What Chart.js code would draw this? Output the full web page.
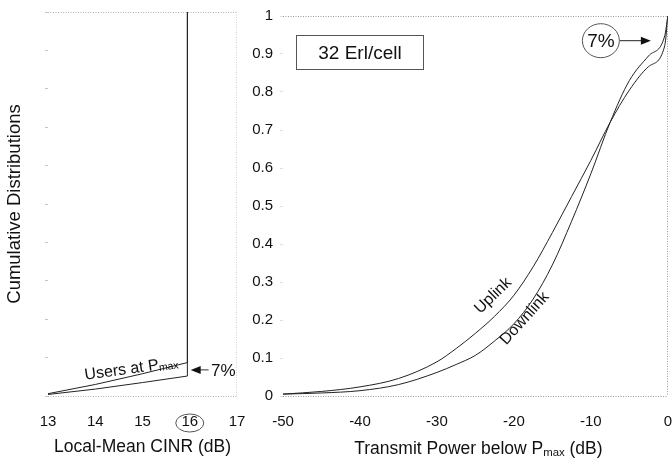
<!DOCTYPE html>
<html>
<head>
<meta charset="utf-8">
<script src="https://cdn.jsdelivr.net/npm/chart.js@4.4.1/dist/chart.umd.min.js"></script>
<style>
  html, body { margin: 0; padding: 0; background: #fff; }
  #wrap { position: relative; width: 672px; height: 460px; }
  #cvLeft { position: absolute; left: 0; top: 0; }
  #cvRight { position: absolute; left: 240px; top: 0; }
</style>
</head>
<body>
<div id="wrap">
  <canvas id="cvLeft" width="250" height="460"></canvas>
  <canvas id="cvRight" width="432" height="460"></canvas>
</div>
<script>
// left panel - local mean CINR of the users stuck at Pmax
var cinrDb   = [13, 14, 15, 15.95, 15.95];
var cinrUp   = [0.006, 0.03, 0.058, 0.087, 1];
var cinrDown = [0.004, 0.018, 0.035, 0.052, 1];
var cinrTicks = [13, 14, 15, 16, 17];

// right panel - transmit power below Pmax
var powerDb  = [-50, -45, -40, -35, -30, -27.5, -25, -22.5, -20, -17.5, -15, -12.5, -10, -7.5, -5, -2.5, -0.4, 0];
var uplink   = [0.005, 0.012, 0.024, 0.046, 0.09, 0.125, 0.165, 0.21, 0.265, 0.34, 0.43, 0.525, 0.62, 0.72, 0.805, 0.867, 0.922, 1];
var downlink = [0.005, 0.008, 0.014, 0.03, 0.062, 0.083, 0.107, 0.145, 0.19, 0.255, 0.345, 0.46, 0.585, 0.72, 0.83, 0.895, 0.948, 1];
var powerTicks = [-50, -40, -30, -20, -10, 0];

var cdfTicks = [0, 0.1, 0.2, 0.3, 0.4, 0.5, 0.6, 0.7, 0.8, 0.9, 1];

var fam = "'Liberation Sans', Arial, sans-serif";
Chart.defaults.font.family = fam;
Chart.defaults.color = '#111';

function pts(xs, ys) {
  return xs.map(function (x, i) { return {x: x, y: ys[i]}; });
}
function setTicks(arr) {
  return function (s) { s.ticks = arr.map(function (v) { return {value: v}; }); };
}

// dotted frame: top/bottom of the cdf and one vertical edge
function frame(edgeX, col, edgeCol) {
  return {
    id: 'frame',
    beforeDatasetsDraw: function (chart) {
      var c = chart.ctx, a = chart.chartArea, xs = chart.scales.x, ys = chart.scales.y;
      c.save();
      c.strokeStyle = col;
      c.lineWidth = 1;
      c.setLineDash([1, 1.5]);
      [0, 1].forEach(function (v) {
        var y = Math.round(ys.getPixelForValue(v)) + 0.5;
        c.beginPath(); c.moveTo(a.left, y); c.lineTo(a.right, y); c.stroke();
      });
      c.strokeStyle = edgeCol;
      var x = Math.round(xs.getPixelForValue(edgeX)) - 0.5;
      c.beginPath(); c.moveTo(x, a.top); c.lineTo(x, a.bottom); c.stroke();
      c.restore();
    }
  };
}

// text with a subscript part
function subText(ctx, parts, x, y, size, center) {
  var w = 0;
  parts.forEach(function (p) {
    ctx.font = (p[1] ? size * 0.65 : size) + 'px ' + fam;
    w += ctx.measureText(p[0]).width;
  });
  var cx = center ? x - w / 2 : x;
  ctx.textAlign = 'left';
  ctx.textBaseline = 'alphabetic';
  parts.forEach(function (p) {
    ctx.font = (p[1] ? size * 0.65 : size) + 'px ' + fam;
    ctx.fillText(p[0], cx, y + size * 0.36 + (p[1] ? size * 0.1 : 0));
    cx += ctx.measureText(p[0]).width;
  });
}

function arrow(ctx, x1, y, x2) {
  var dir = x2 > x1 ? 1 : -1;
  ctx.beginPath();
  ctx.moveTo(x1, y);
  ctx.lineTo(x2 - dir * 8, y);
  ctx.stroke();
  ctx.beginPath();
  ctx.moveTo(x2, y);
  ctx.lineTo(x2 - dir * 10, y - 4);
  ctx.lineTo(x2 - dir * 10, y + 4);
  ctx.closePath();
  ctx.fill();
}

var lineStyle = {borderColor: '#222', borderWidth: 1, pointRadius: 0, fill: false};

var leftNotes = {
  id: 'leftNotes',
  afterDraw: function (chart) {
    var c = chart.ctx, xs = chart.scales.x, ys = chart.scales.y;
    c.save();
    c.fillStyle = '#111';
    c.strokeStyle = '#333';
    c.lineWidth = 1;
    c.save();
    c.translate(xs.getPixelForValue(14.76), ys.getPixelForValue(0.074));
    c.rotate(-8 * Math.PI / 180);
    subText(c, [['Users at P', false], ['max', true]], 0, 0, 16, true);
    c.restore();
    var ay = ys.getPixelForValue(0.068);
    arrow(c, xs.getPixelForValue(16.4), ay, xs.getPixelForValue(16.02));
    c.font = '17px ' + fam;
    c.textAlign = 'left';
    c.textBaseline = 'middle';
    c.fillText('7%', xs.getPixelForValue(16.45), ay + 1);
    // circle round the 16 dB tick
    c.strokeStyle = '#555';
    c.beginPath();
    c.ellipse(xs.getPixelForValue(16), 423, 14, 9, 0, 0, Math.PI * 2);
    c.stroke();
    c.restore();
  }
};

var rightNotes = {
  id: 'rightNotes',
  afterDraw: function (chart) {
    var c = chart.ctx, xs = chart.scales.x, ys = chart.scales.y, a = chart.chartArea;
    c.save();
    c.fillStyle = '#111';
    c.strokeStyle = '#555';
    c.lineWidth = 1;
    var x1 = Math.round(xs.getPixelForValue(-48.3)) + 0.5, x2 = Math.round(xs.getPixelForValue(-31.8)) + 0.5;
    var y1 = Math.round(ys.getPixelForValue(0.95)) + 0.5, y2 = Math.round(ys.getPixelForValue(0.86)) + 0.5;
    c.strokeRect(x1, y1, x2 - x1, y2 - y1);
    c.font = '19px ' + fam;
    c.textAlign = 'center';
    c.textBaseline = 'middle';
    c.fillText('32 Erl/cell', (x1 + x2) / 2, (y1 + y2) / 2 + 1);
    var ex = xs.getPixelForValue(-8.7), ey = ys.getPixelForValue(0.935);
    c.beginPath();
    c.ellipse(ex, ey, 18.5, 17, 0, 0, Math.PI * 2);
    c.stroke();
    c.fillText('7%', ex, ey + 1);
    c.strokeStyle = '#222';
    arrow(c, ex + 19, ey, xs.getPixelForValue(-2.2));
    c.font = '16px ' + fam;
    c.save();
    c.translate(xs.getPixelForValue(-22.7), ys.getPixelForValue(0.264));
    c.rotate(-44 * Math.PI / 180);
    c.fillText('Uplink', 0, 0);
    c.restore();
    c.save();
    c.translate(xs.getPixelForValue(-18.6), ys.getPixelForValue(0.204));
    c.rotate(-48 * Math.PI / 180);
    c.fillText('Downlink', 0, 0);
    c.restore();
    subText(c, [['Transmit Power below P', false], ['max', true], [' (dB)', false]], (a.left + a.right) / 2 + 3, 448, 17.5, true);
    c.restore();
  }
};

function yLabel(v) { return String(Math.round(v * 10) / 10); }

new Chart(document.getElementById('cvLeft'), {
  type: 'line',
  data: {
    datasets: [
      Object.assign({data: pts(cinrDb, cinrUp), tension: 0}, lineStyle),
      Object.assign({data: pts(cinrDb, cinrDown), tension: 0}, lineStyle)
    ]
  },
  options: {
    responsive: false,
    animation: false,
    layout: {padding: {top: 12, right: 13, left: 0, bottom: 0}},
    plugins: {legend: {display: false}, tooltip: {enabled: false}},
    scales: {
      x: {
        type: 'linear', min: 13, max: 17,
        afterBuildTicks: setTicks(cinrTicks),
        afterFit: function (s) { s.height = 64; },
        border: {display: false},
        grid: {color: 'transparent', drawTicks: true, tickLength: 17, tickColor: 'transparent'},
        ticks: {padding: 0, font: {size: 15}},
        title: {display: true, text: 'Local-Mean CINR (dB)', font: {size: 17.5}, padding: {top: 0, bottom: 2}}
      },
      y: {
        min: 0, max: 1,
        afterBuildTicks: setTicks(cdfTicks),
        afterFit: function (s) { s.width = 48; },
        border: {display: false},
        grid: {color: 'transparent', drawTicks: true, tickLength: 3, tickColor: '#c4c4c4'},
        ticks: {callback: function () { return ''; }, padding: 0},
        title: {display: true, text: 'Cumulative Distributions', font: {size: 18.5}, padding: {top: 4, bottom: 0}}
      }
    }
  },
  plugins: [frame(17, '#b0b0b0', '#d0d0d0'), leftNotes]
});

new Chart(document.getElementById('cvRight'), {
  type: 'line',
  data: {
    datasets: [
      Object.assign({label: 'Uplink', data: pts(powerDb, uplink), cubicInterpolationMode: 'monotone'}, lineStyle),
      Object.assign({label: 'Downlink', data: pts(powerDb, downlink), cubicInterpolationMode: 'monotone'}, lineStyle)
    ]
  },
  options: {
    responsive: false,
    animation: false,
    layout: {padding: {top: 12, right: 3, left: 0, bottom: 0}},
    plugins: {legend: {display: false}, tooltip: {enabled: false}},
    scales: {
      x: {
        type: 'linear', min: -50, max: 0,
        afterBuildTicks: setTicks(powerTicks),
        afterFit: function (s) { s.height = 64; },
        border: {display: false},
        grid: {color: 'transparent', drawTicks: true, tickLength: 17, tickColor: 'transparent'},
        ticks: {padding: 0, font: {size: 15}}
      },
      y: {
        min: 0, max: 1,
        afterBuildTicks: setTicks(cdfTicks),
        afterFit: function (s) { s.width = 43; },
        border: {display: false},
        grid: {color: 'transparent', drawTicks: true, tickLength: 3, tickColor: '#e0e0e0'},
        ticks: {padding: 7, font: {size: 15}, callback: yLabel}
      }
    }
  },
  plugins: [frame(0, '#999', '#999'), rightNotes]
});
</script>
</body>
</html>
